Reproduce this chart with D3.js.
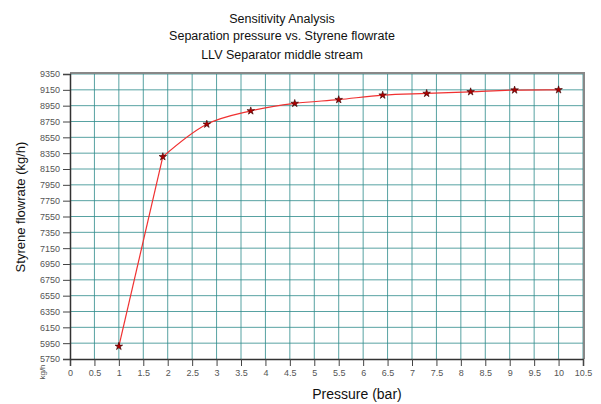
<!DOCTYPE html>
<meta charset="utf-8">
<style>
html, body { margin: 0; padding: 0; background: #fff; }
svg { display: block; font-family: "Liberation Sans", Arial, sans-serif; }
.title { font-size: 12.5px; fill: #111; text-anchor: middle; }
.tick text { font-size: 9px; fill: #555; }
.grid line { stroke: #2f8c8c; stroke-width: 1; opacity: .8; }
.curve { fill: none; stroke: #f03030; stroke-width: 1.2; }
</style>
<div id="chart"></div>
<script src="https://cdn.jsdelivr.net/npm/d3@7"></script>
<script>

// pressure (bar) and styrene flowrate (kg/h)
var pressure = [1, 1.9, 2.8, 3.7, 4.6, 5.5, 6.4, 7.3, 8.2, 9.1, 10];
var flowrate = [5910, 8305, 8716, 8884, 8978, 9026, 9083, 9105, 9125, 9147, 9150];

var xTicks = d3.range(0, 10.51, 0.5);
var yTicks = d3.range(5750, 9351, 200);
var titles = ["Sensitivity Analysis", "Separation pressure vs. Styrene flowrate", "LLV Separator middle stream"];

var width = 601, height = 404;
var margin = {top: 74, right: 18, bottom: 45, left: 70};

var svg = d3.select("#chart").append("svg")
    .attr("width", width)
    .attr("height", height);

var x = d3.scaleLinear()
    .domain([0, 10.5])
    .range([margin.left, width - margin.right]);

var y = d3.scaleLinear()
    .domain([5750, 9350])
    .range([height - margin.bottom, margin.top]);

// grid
svg.append("g").attr("class", "grid")
  .selectAll("line").data(xTicks.slice(1)).enter().append("line")
    .attr("x1", d => x(d)).attr("x2", d => x(d))
    .attr("y1", y(5750)).attr("y2", y(9350));

svg.append("g").attr("class", "grid")
  .selectAll("line").data(yTicks.slice(1)).enter().append("line")
    .attr("x1", x(0)).attr("x2", x(10.5))
    .attr("y1", d => y(d)).attr("y2", d => y(d));

// frame (top / right)
svg.append("path")
    .attr("d", "M" + x(0) + "," + (y(9350) - 1) + "H" + (x(10.5) + 1) + "V" + y(5750))
    .attr("fill", "none")
    .attr("stroke", "#888")
    .attr("stroke-width", 2);

// axes
var xAxis = svg.append("g")
    .attr("transform", "translate(0," + y(5750) + ")")
    .call(d3.axisBottom(x).tickValues(xTicks).tickSize(7).tickPadding(4)
      .tickFormat(d => d3.format("~g")(d)));
var yAxis = svg.append("g")
    .attr("transform", "translate(" + x(0) + ",0)")
    .call(d3.axisLeft(y).tickValues(yTicks).tickSize(7).tickPadding(3)
      .tickFormat(d3.format("d")));
[xAxis, yAxis].forEach(function(a) {
  a.select(".domain").attr("stroke", "#333").attr("stroke-width", 1.5);
  a.selectAll(".tick line").attr("stroke", "#444");
});

// curve: first step is straight, the rest is smoothed
var pts = pressure.map((p, i) => [x(p), y(flowrate[i])]);

svg.append("path")
    .attr("class", "curve")
    .attr("d", d3.line()(pts.slice(0, 2)));

svg.append("path")
    .attr("class", "curve")
    .attr("d", d3.line().curve(d3.curveCatmullRom.alpha(0.5))(pts.slice(1)));

svg.append("g")
  .selectAll("path").data(flowrate).enter().append("path")
    .attr("transform", (d, i) => "translate(" + x(pressure[i]) + "," + y(d) + ")")
    .attr("d", d3.symbol().type(d3.symbolStar).size(18))
    .attr("fill", "#b00000")
    .attr("stroke", "#300")
    .attr("stroke-width", 0.6);

// titles
svg.selectAll(".title").data(titles).enter().append("text")
    .attr("class", "title")
    .attr("x", 282)
    .attr("y", (d, i) => [23, 40, 59][i])
    .text(d => d);

svg.append("text")
    .attr("x", 357).attr("y", 399)
    .attr("text-anchor", "middle")
    .style("font-size", "14px")
    .attr("fill", "#111")
    .text("Pressure (bar)");

svg.append("text")
    .attr("transform", "translate(25,207) rotate(-90)")
    .attr("text-anchor", "middle")
    .style("font-size", "13px")
    .attr("fill", "#111")
    .text("Styrene flowrate (kg/h)");

svg.append("text")
    .attr("transform", "translate(45,372) rotate(-90)")
    .attr("text-anchor", "middle")
    .style("font-size", "8px")
    .attr("fill", "#555")
    .text("kg/h");

</script>
